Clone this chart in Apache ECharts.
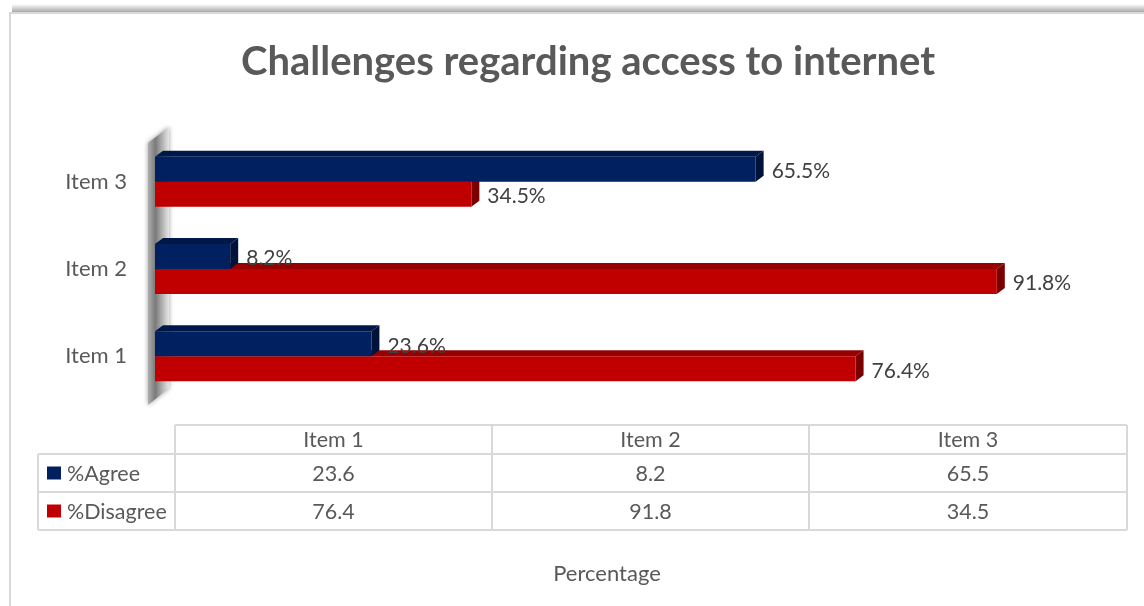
<!DOCTYPE html>
<html>
<head>
<meta charset="utf-8">
<script src="https://cdn.jsdelivr.net/npm/echarts@6/dist/echarts.min.js"></script>
<style>
html,body{margin:0;padding:0;background:#fff;}
#chart{width:1144px;height:606px;}
</style>
</head>
<body>
<div id="chart"></div>
<script>
var categories = ['Item 1', 'Item 2', 'Item 3'];
var agreeValues = [23.6, 8.2, 65.5];
var disagreeValues = [76.4, 91.8, 34.5];
var seriesNames = ['%Agree', '%Disagree'];
var titleText = 'Challenges regarding access to internet';
var axisName = 'Percentage';

var FONT = 'Lato';
var TXT = '#595959';
var BLUE = {front: '#002060', top: '#001848', side: '#00123a'};
var RED = {front: '#C00000', top: '#960000', side: '#7a0000'};
var DX = 8, DY = 6, BAR_H = 25;
var TBL_FONT = '21.5px ' + FONT;

function makeRender(colors, above) {
  return function (params, api) {
    var idx = api.value(1), val = api.value(0);
    var p0 = api.coord([0, idx]);
    var p1 = api.coord([val, idx]);
    var x0 = p0[0], x1 = p1[0], yc = p0[1];
    var yT = above ? yc - BAR_H : yc;
    var yB = yT + BAR_H;
    return {
      type: 'group',
      children: [
        {type: 'polygon', shape: {points: [[x0, yT], [x0 + DX, yT - DY], [x1 + DX, yT - DY], [x1, yT]]}, style: {fill: colors.top}},
        {type: 'polygon', shape: {points: [[x1, yT], [x1 + DX, yT - DY], [x1 + DX, yB - DY], [x1, yB]]}, style: {fill: colors.side}},
        {type: 'rect', shape: {x: x0, y: yT, width: x1 - x0, height: BAR_H}, style: {fill: colors.front}},
        {type: 'text', x: x1 + DX + 8, y: (yT + yB) / 2 + 2, style: {text: val.toFixed(1) + '%', fill: '#404040', font: '21px ' + FONT, textVerticalAlign: 'middle', textAlign: 'left'}}
      ]
    };
  };
}

var graphics = [];
var tblLeft = 38, tblLab = 175, colEdges = [175, 492, 809, 1127];
var rowEdges = [425, 454, 492, 530];
var LINE = {stroke: '#d9d9d9', lineWidth: 2};
graphics.push({type: 'rect', shape: {x: 12, y: 4, width: 1140, height: 9}, style: {fill: {type: 'linear', x: 0, y: 0, x2: 0, y2: 1, colorStops: [{offset: 0, color: 'rgba(0,0,0,0)'}, {offset: 1, color: 'rgba(0,0,0,0.38)'}]}}, z: 1});
graphics.push({type: 'rect', shape: {x: 10, y: 13, width: 1150, height: 610}, style: {fill: 'none', stroke: '#d9d9d9', lineWidth: 2}, z: 1});
graphics.push({type: 'polygon', shape: {points: [[148, 143], [169, 127], [169, 388], [148, 405]]},
  style: {fill: {type: 'linear', x: 0, y: 0, x2: 1, y2: 0, colorStops: [{offset: 0, color: '#b0b0b0'}, {offset: 0.35, color: '#7a7a7a'}, {offset: 0.7, color: '#b5b5b5'}, {offset: 1, color: '#e6e6e6'}]}, shadowBlur: 5, shadowColor: 'rgba(0,0,0,0.4)'}, z: 0});
graphics.push({type: 'line', shape: {x1: tblLab, y1: rowEdges[0], x2: colEdges[3], y2: rowEdges[0]}, style: LINE, z: 2});
for (var r = 1; r < rowEdges.length; r++) {
  graphics.push({type: 'line', shape: {x1: tblLeft, y1: rowEdges[r], x2: colEdges[3], y2: rowEdges[r]}, style: LINE, z: 2});
}
graphics.push({type: 'line', shape: {x1: tblLeft, y1: rowEdges[1], x2: tblLeft, y2: rowEdges[3]}, style: LINE, z: 2});
for (var c = 0; c < colEdges.length; c++) {
  graphics.push({type: 'line', shape: {x1: colEdges[c], y1: rowEdges[0], x2: colEdges[c], y2: rowEdges[3]}, style: LINE, z: 2});
}
var rows = [agreeValues, disagreeValues];
var legendColors = [BLUE.front, RED.front];
for (var i = 0; i < categories.length; i++) {
  var cx = (colEdges[i] + colEdges[i + 1]) / 2;
  graphics.push({type: 'text', x: cx, y: (rowEdges[0] + rowEdges[1]) / 2 + 1, style: {text: categories[i], fill: TXT, font: TBL_FONT, textAlign: 'center', textVerticalAlign: 'middle'}, z: 3});
  for (var s = 0; s < rows.length; s++) {
    graphics.push({type: 'text', x: cx, y: (rowEdges[s + 1] + rowEdges[s + 2]) / 2 + 1, style: {text: String(rows[s][i]), fill: TXT, font: TBL_FONT, textAlign: 'center', textVerticalAlign: 'middle'}, z: 3});
  }
}
for (var s2 = 0; s2 < seriesNames.length; s2++) {
  var yc = (rowEdges[s2 + 1] + rowEdges[s2 + 2]) / 2;
  graphics.push({type: 'rect', shape: {x: 47, y: yc - 6.5, width: 14, height: 13}, style: {fill: legendColors[s2]}, z: 3});
  graphics.push({type: 'text', x: 67, y: yc + 1, style: {text: seriesNames[s2], fill: TXT, font: TBL_FONT, textAlign: 'left', textVerticalAlign: 'middle'}, z: 3});
}

var chart = echarts.init(document.getElementById('chart'));
chart.setOption({
  backgroundColor: '#fff',
  animation: false,
  title: {text: titleText, left: 583, top: 37, textAlign: 'center',
    textStyle: {fontFamily: FONT, fontWeight: 'bold', fontSize: 40, color: TXT}},
  grid: {left: 155, top: 138, width: 917, height: 262, containLabel: false},
  xAxis: {type: 'value', min: 0, max: 100, show: true,
    axisLine: {show: false}, axisTick: {show: false}, axisLabel: {show: false}, splitLine: {show: false},
    name: axisName, nameLocation: 'middle', nameGap: 163,
    nameTextStyle: {fontFamily: FONT, fontSize: 22, color: TXT, padding: [0, 13, 0, 0]}},
  yAxis: {type: 'category', data: categories,
    axisLine: {show: false}, axisTick: {show: false}, splitLine: {show: false},
    axisLabel: {margin: 28, fontFamily: FONT, fontSize: 22, color: TXT}},
  graphic: graphics,
  series: [
    {type: 'custom', name: seriesNames[1], renderItem: makeRender(RED, false),
      data: disagreeValues.map(function (v, i) { return [v, i]; }), encode: {x: 0, y: 1}, z: 5},
    {type: 'custom', name: seriesNames[0], renderItem: makeRender(BLUE, true),
      data: agreeValues.map(function (v, i) { return [v, i]; }), encode: {x: 0, y: 1}, z: 6}
  ]
});
</script>
</body>
</html>
